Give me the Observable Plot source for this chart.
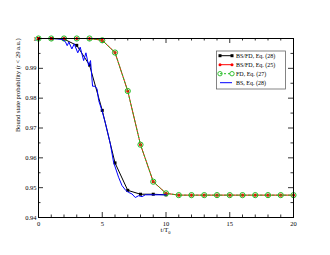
<!DOCTYPE html>
<html>
<head>
<meta charset="utf-8">
<script src="https://cdn.jsdelivr.net/npm/d3@7"></script>
<script src="https://cdn.jsdelivr.net/npm/@observablehq/plot@0.6"></script>
<style>
  html, body { margin: 0; padding: 0; background: white; }
  #chart svg { display: block; }
</style>
</head>
<body>
<div id="chart"></div>
<script>
// ---- data ----
const tBlack = [0, 1, 2, 3, 4, 5, 6, 7, 8, 9, 10];
const pBlack = [1.0, 1.0, 0.9998, 0.9977, 0.9911, 0.9759, 0.9583, 0.9491, 0.9478, 0.9478, 0.9476];

const tRed = [0,1,2,3,4,5,6,7,8,9,10,11,12,13,14,15,16,17,18,19,20];
const pRed = [1.0,1.0,1.0,1.0,1.0,0.9994,0.9953,0.9824,0.9644,0.9520,0.9481,0.9475,0.9475,0.9475,0.9475,0.9475,0.9475,0.9475,0.9475,0.9475,0.9475];

const tGreen = [0,1,2,3,4,5,6,7,8,9,10,11,12,13,14,15,16,17,18,19,20];
const pGreen = [1.0,1.0,1.0,1.0,1.0,0.9994,0.9953,0.9824,0.9644,0.9520,0.9481,0.9475,0.9475,0.9475,0.9475,0.9475,0.9475,0.9475,0.9475,0.9475,0.9475];

const tBlue = [0, 1.0, 1.5, 1.85, 2.1, 2.25, 2.38, 2.62, 2.8, 3.08, 3.27, 3.54, 3.72, 3.93, 4.08, 4.24, 4.45, 4.6, 4.72, 4.98, 5.23, 5.45, 5.63, 5.89, 6.28, 6.55, 6.86, 7.07, 7.33, 7.59, 7.85, 8.12, 8.38, 9.0, 10.0];
const pBlue = [1.0, 1.0, 0.9999, 0.9997, 0.9990, 0.9976, 0.9988, 0.9965, 0.9982, 0.9952, 0.9971, 0.9926, 0.9952, 0.9909, 0.9926, 0.9840, 0.9840, 0.9830, 0.9792, 0.9758, 0.9719, 0.9680, 0.9647, 0.9585, 0.9535, 0.9507, 0.9490, 0.9484, 0.9479, 0.9467, 0.9473, 0.9470, 0.9476, 0.9476, 0.9476];

const seriesLabels = ["BS/FD, Eq. (28)", "BS/FD, Eq. (25)", "FD, Eq. (27)", "BS, Eq. (28)"];

const xTicks = [0, 5, 10, 15, 20];
const xTickLabels = ["0", "5", "10", "15", "20"];
const xMinorTicks = [1,2,3,4,6,7,8,9,11,12,13,14,16,17,18,19];
const yTicks = [0.94, 0.95, 0.96, 0.97, 0.98, 0.99, 1.0];
const yTickLabels = ["0.94", "0.95", "0.96", "0.97", "0.98", "0.99", "1"];
const yMinorTicks = [0.945, 0.955, 0.965, 0.975, 0.985, 0.995];

const xLabel = "t/T";
const xLabelSub = "0";
const yLabel = "Bound state probability (r < 29 a.u.)";

// ---- build tables ----
const black = tBlack.map((t, i) => ({t, p: pBlack[i]}));
const red = tRed.map((t, i) => ({t, p: pRed[i]}));
const green = tGreen.map((t, i) => ({t, p: pGreen[i]}));
const blue = tBlue.map((t, i) => ({t, p: pBlue[i]}));

const W = 330, H = 255;
const mL = 38, mR = 37, mT = 38, mB = 38;
const innerW = W - mL - mR, innerH = H - mT - mB;
const majorLen = 5, minorLen = 2.5;
const GREEN = "#22bb22";
const font = "'Liberation Serif', 'Times New Roman', serif";

const plot = Plot.plot({
  width: W, height: H,
  marginLeft: mL, marginRight: mR, marginTop: mT, marginBottom: mB,
  style: {fontFamily: font, fontSize: "6.5px", background: "white", color: "black"},
  x: {domain: [0, 20]},
  y: {domain: [0.94, 1.0]},
  marks: [
    // inward ticks on all four sides
    Plot.tickX(xTicks, {x: d => d, insetTop: innerH - majorLen, stroke: "black", strokeWidth: 0.8}),
    Plot.tickX(xMinorTicks, {x: d => d, insetTop: innerH - minorLen, stroke: "black", strokeWidth: 0.8}),
    Plot.tickX(xTicks, {x: d => d, insetBottom: innerH - majorLen, stroke: "black", strokeWidth: 0.8}),
    Plot.tickX(xMinorTicks, {x: d => d, insetBottom: innerH - minorLen, stroke: "black", strokeWidth: 0.8}),
    Plot.tickY(yTicks, {y: d => d, insetRight: innerW - majorLen, stroke: "black", strokeWidth: 0.8}),
    Plot.tickY(yMinorTicks, {y: d => d, insetRight: innerW - minorLen, stroke: "black", strokeWidth: 0.8}),
    Plot.tickY(yTicks, {y: d => d, insetLeft: innerW - majorLen, stroke: "black", strokeWidth: 0.8}),
    Plot.tickY(yMinorTicks, {y: d => d, insetLeft: innerW - minorLen, stroke: "black", strokeWidth: 0.8}),
    Plot.axisX(xTicks, {tickSize: 0, tickPadding: 4, label: null, tickFormat: d => xTickLabels[xTicks.indexOf(d)]}),
    Plot.axisY(yTicks, {tickSize: 0, tickPadding: 2, label: null, tickFormat: d => yTickLabels[yTicks.indexOf(d)]}),
    Plot.text([yLabel], {text: d => d, frameAnchor: "left", rotate: -90, dx: -21, dy: 4, fontSize: 6.5}),
    // series
    Plot.line(black, {x: "t", y: "p", stroke: "black", strokeWidth: 1}),
    Plot.dot(black, {x: "t", y: "p", symbol: "square", fill: "black", r: 1.7}),
    Plot.line(red, {x: "t", y: "p", stroke: "red", strokeWidth: 1}),
    Plot.dot(red, {x: "t", y: "p", fill: "red", r: 1.6}),
    Plot.line(green, {x: "t", y: "p", stroke: GREEN, strokeWidth: 1, strokeDasharray: "2,2"}),
    Plot.dot(green, {x: "t", y: "p", fill: "none", stroke: GREEN, strokeWidth: 1, r: 2.6}),
    Plot.line(blue, {x: "t", y: "p", stroke: "#0000ff", strokeWidth: 1}),
    Plot.frame({stroke: "black", strokeWidth: 1})
  ]
});

document.getElementById("chart").appendChild(plot);

// x-axis label with subscript
const svg = d3.select(plot);
const xs = plot.scale("x");
const xl = svg.append("text")
  .attr("x", (xs.range[0] + xs.range[1]) / 2)
  .attr("y", H - mB + 15)
  .attr("text-anchor", "middle")
  .attr("font-family", font)
  .attr("font-size", 6.5)
  .attr("fill", "black");
xl.append("tspan").text(xLabel);
xl.append("tspan").attr("dy", 2).attr("font-size", 4.5).text(xLabelSub);

// legend
const lg = svg.append("g").attr("transform", "translate(216.5,51)");
lg.append("rect").attr("width", 69).attr("height", 38)
  .attr("fill", "white").attr("stroke", "#666").attr("stroke-width", 0.8);
const styles = [
  {stroke: "black", dash: null, marker: "square"},
  {stroke: "red", dash: null, marker: "reddot"},
  {stroke: GREEN, dash: "2,2", marker: "greencircle"},
  {stroke: "#0000ff", dash: null, marker: null}
];
seriesLabels.forEach((lab, i) => {
  const y = 4.7 + i * 9;
  const s = styles[i];
  const g = lg.append("g").attr("transform", `translate(0,${y})`);
  g.append("line").attr("x1", 3.5).attr("x2", 15.5).attr("y1", 0).attr("y2", 0)
    .attr("stroke", s.stroke).attr("stroke-width", 1).attr("stroke-dasharray", s.dash);
  [3.5, 15.5].forEach(x => {
    if (s.marker === "square") g.append("rect").attr("x", x - 1.5).attr("y", -1.5).attr("width", 3).attr("height", 3).attr("fill", "black");
    if (s.marker === "reddot") g.append("circle").attr("cx", x).attr("cy", 0).attr("r", 1.5).attr("fill", "red");
    if (s.marker === "greencircle") g.append("circle").attr("cx", x).attr("cy", 0).attr("r", 2.2).attr("fill", "none").attr("stroke", GREEN).attr("stroke-width", 0.9);
  });
  g.append("text").attr("x", 19.5).attr("y", 0).attr("dy", "0.35em")
    .attr("text-anchor", "start")
    .attr("font-family", font).attr("font-size", 6).attr("fill", "black").text(lab);
});
</script>
</body>
</html>
